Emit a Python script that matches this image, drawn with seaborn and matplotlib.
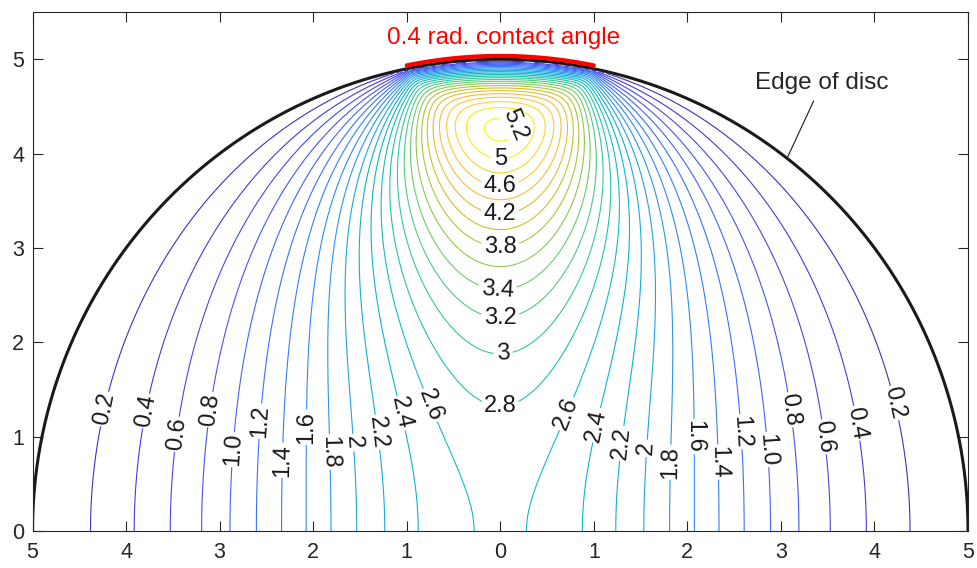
import numpy as np
import matplotlib
matplotlib.use("Agg")
import matplotlib.pyplot as plt
import seaborn as sns
from matplotlib.colors import LinearSegmentedColormap

sns.set_theme(style="ticks")
plt.rcParams['font.family'] = ['Liberation Sans', 'DejaVu Sans']

# disc and loading (Brazilian disc, parabolic pressure over the contact arc)
radius = 5.0
contact_angle = 0.4          # rad, whole arc
load = 10.47                 # force per unit thickness on each arc

levels = [0.2, 0.4, 0.6, 0.8, 1.0, 1.2, 1.4, 1.6, 1.8, 2.0, 2.2, 2.4, 2.6,
          2.8, 3.0, 3.2, 3.4, 3.6, 3.8, 4.0, 4.2, 4.4, 4.6, 4.8, 5.0, 5.2]
label_levels = [0.2, 0.4, 0.6, 0.8, 1.0, 1.2, 1.4, 1.6, 1.8, 2.0, 2.2, 2.4,
                2.6, 2.8, 3.0, 3.2, 3.4, 3.8, 4.2, 4.6, 5.0, 5.2]
label_names = ["0.2", "0.4", "0.6", "0.8", "1.0", "1.2", "1.4", "1.6", "1.8",
               "2", "2.2", "2.4", "2.6", "2.8", "3", "3.2", "3.4", "3.8",
               "4.2", "4.6", "5", "5.2"]
label_pos = [(-4.16, 1.28), (-3.72, 1.26), (-3.40, 1.02), (-3.04, 1.28),
             (-2.82, 0.86), (-2.51, 1.16), (-2.28, 0.75), (-2.01, 1.10),
             (-1.77, 0.84), (-1.52, 0.94), (-1.29, 1.05), (-1.05, 1.25),
             (-0.73, 1.34),
             (0.69, 1.25), (0.98, 1.13), (1.28, 0.93), (1.49, 0.88),
             (1.74, 0.73), (1.99, 1.00), (2.26, 0.73), (2.53, 1.05),
             (2.80, 0.86), (3.06, 1.28), (3.38, 0.99), (3.72, 1.13),
             (4.13, 1.34),
             (0.0, 1.32), (0.03, 1.89), (0.0, 2.26), (-0.03, 2.56),
             (0.0, 3.00), (0.0, 3.38), (0.0, 3.66), (0.0, 3.96), (0.15, 4.30)]

x_ticks = [-5, -4, -3, -2, -1, 0, 1, 2, 3, 4, 5]
y_ticks = [0, 1, 2, 3, 4, 5]

parula_rgb = [(0.2422, 0.1504, 0.6603), (0.2706, 0.2147, 0.8364),
              (0.2813, 0.3006, 0.9414), (0.2699, 0.3892, 0.9906),
              (0.1963, 0.4847, 0.9892), (0.1687, 0.5703, 0.9359),
              (0.1248, 0.6459, 0.8883), (0.0297, 0.7082, 0.8163),
              (0.0964, 0.7500, 0.7120), (0.2161, 0.7843, 0.5923),
              (0.3909, 0.8029, 0.4354), (0.6174, 0.7876, 0.2612),
              (0.8203, 0.7498, 0.1535), (0.9728, 0.7298, 0.2394),
              (0.9892, 0.8136, 0.1885), (0.9628, 0.9373, 0.1265),
              (0.9769, 0.9839, 0.0805)]
parula_pos = [0, 4, 8, 12, 16, 20, 24, 28, 32, 36, 40, 44, 48, 52, 56, 60, 63]
parula = LinearSegmentedColormap.from_list(
    "parula", [(p / 63, c) for p, c in zip(parula_pos, parula_rgb)])


def tresca(X, Y, n=800):
    # superpose diametral point-load pairs spread over the contact arc
    half = contact_angle / 2
    phi = (np.arange(n) + 0.5) / n * contact_angle - half
    w = 1 - (phi / half) ** 2
    w = w / w.sum() * load
    sxx = np.zeros_like(X); syy = np.zeros_like(X); sxy = np.zeros_like(X)
    for p, f in zip(phi, w):
        ux, uy = np.sin(p), np.cos(p)
        for s in (1, -1):
            dx = X - s * radius * ux
            dy = Y - s * radius * uy
            r2 = dx * dx + dy * dy
            c = 2 * f / np.pi * s * (dx * ux + dy * uy) / r2 ** 2
            sxx += c * dx * dx; syy += c * dy * dy; sxy += c * dx * dy
        iso = f / (np.pi * radius)
        sxx += iso; syy += iso
    return np.sqrt((sxx - syy) ** 2 + 4 * sxy ** 2)


xg = np.linspace(-radius, radius, 601)
yg = np.linspace(0, radius, 301)
X, Y = np.meshgrid(xg, yg)
T = tresca(X, Y)
T[np.hypot(X, Y) > radius - 0.01] = np.nan

fig = plt.figure(figsize=(9.77, 5.68), dpi=100)
ax = fig.add_axes([0.0333, 0.0651, 0.9575, 0.9137])

other_levels = [v for v in levels if v not in label_levels]
ax.contour(X, Y, T, levels=other_levels, cmap=parula, vmin=0, vmax=5.3,
           linewidths=0.8)
cs = ax.contour(X, Y, T, levels=label_levels, cmap=parula, vmin=0, vmax=5.3,
                linewidths=0.8)
ax.clabel(cs, manual=label_pos, fmt=dict(zip(cs.levels, label_names)),
          fontsize=17, colors="k", inline=True, inline_spacing=3)

th = np.linspace(0, np.pi, 500)
ax.plot(radius * np.cos(th), radius * np.sin(th), color="k", lw=2.2)
th = np.linspace(np.pi / 2 - contact_angle / 2, np.pi / 2 + contact_angle / 2, 60)
ax.plot(1.007 * radius * np.cos(th), 1.007 * radius * np.sin(th), color="red", lw=3)
ax.text(0.03, 5.23, "0.4 rad. contact angle", color="red", ha="center",
        va="center", fontsize=17.5)
ax.annotate("Edge of disc", xy=(3.07, 3.96), xytext=(3.44, 4.75),
            ha="center", va="center", fontsize=17.5,
            arrowprops=dict(arrowstyle="-", lw=0.8, color="k", shrinkA=3, shrinkB=0))

ax.set_xlim(-5, 5)
ax.set_ylim(0, 5.5)
ax.set_xticks(x_ticks)
ax.set_xticklabels([str(abs(v)) for v in x_ticks])
ax.set_yticks(y_ticks)
ax.tick_params(direction="in", length=7, width=0.8, top=True, right=True,
               labelsize=15.5, colors="#262626")
ax.tick_params(axis="x", pad=8)
ax.tick_params(axis="y", pad=6)
for sp in ax.spines.values():
    sp.set_linewidth(0.8)
    sp.set_color("#262626")

fig.savefig("out.png", dpi=100)
